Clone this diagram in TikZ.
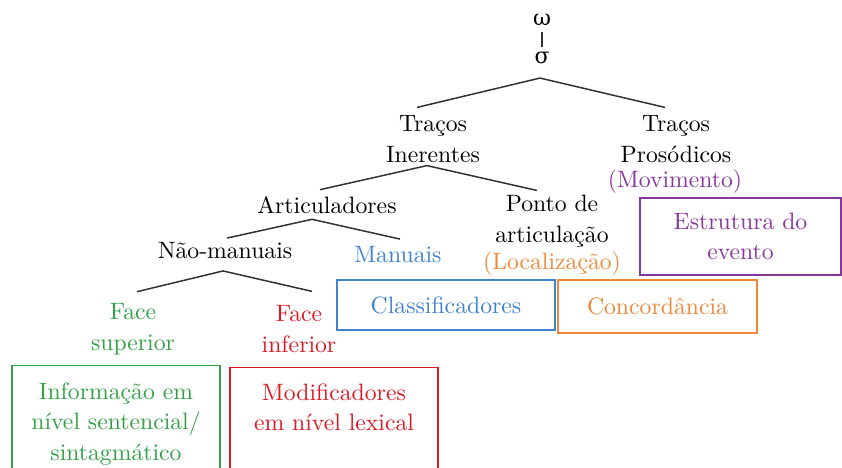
\documentclass[tikz,border=0pt]{standalone}
\usepackage{fontspec}
\newfontfamily\treefont{lmroman10-regular}[Extension=.otf]
\newfontfamily\greekfont{DejaVu Serif}
\definecolor{facegreen}{RGB}{50,160,70}
\definecolor{facered}{RGB}{220,25,35}
\definecolor{manblue}{RGB}{65,130,205}
\definecolor{locorange}{RGB}{240,135,55}
\definecolor{movpurple}{RGB}{135,55,155}
\begin{document}
\begin{tikzpicture}[x=1pt,y=-1pt,
  every node/.style={font=\treefont\fontsize{23.7}{30.5}\selectfont, inner sep=0pt, align=center},
  branch/.style={draw=black!80, line width=1.5pt},
  box/.style={draw=#1, text=#1, line width=1.2pt}]
\clip (0,0) rectangle (842,467);

\node (omega) at (542,20) {\greekfont\fontsize{22}{26}\selectfont ω};
\node (sigma) at (542,58) {\greekfont\fontsize{22}{26}\selectfont σ};
\draw[branch] ([yshift=-6pt]omega.south) -- ([yshift=5pt]sigma.north);

\node (inerentes) at (433,139) {Traços\\Inerentes};
\node (prosodicos) at (676,139) {Traços\\Prosódicos};
\node[text=movpurple] (movimento) at (675,182) {(Movimento)};
\draw[branch] ([shift={(-16pt,8pt)}]inerentes.north) -- ([shift={(-2pt,-14pt)}]sigma.south) -- ([shift={(-11pt,8pt)}]prosodicos.north);

\node (articuladores) at (327,205) {Articuladores};
\node (ponto) at (552,221) {Ponto de\\articulação};
\node[text=locorange] (localizacao) at (552,264) {(Localização)};
\draw[branch] ([shift={(-7pt,6.5pt)}]articuladores.north) -- ([shift={(-6pt,-3pt)}]inerentes.south) -- ([shift={(-15pt,4.5pt)}]ponto.north);

\node (naomanuais) at (225,251) {Não-manuais};
\node[text=manblue] (manuais) at (398,255) {Manuais};
\draw[branch] ([shift={(2pt,4.5pt)}]naomanuais.north) -- ([shift={(-15pt,-5.5pt)}]articuladores.south) -- ([shift={(2pt,7.5pt)}]manuais.north);

\node[text=facegreen] (facesup) at (133,329) {Face\\superior};
\node[text=facered] (faceinf) at (299,329) {Face\\inferior};
\draw[branch] ([shift={(4pt,11.5pt)}]facesup.north) -- ([shift={(-2pt,-11.5pt)}]naomanuais.south) -- ([shift={(13pt,14pt)}]faceinf.north);

% boxes
\node[box=facegreen, anchor=north, minimum width=208pt, inner ysep=17pt] (informacao) at (116,365) {Informação em\\nível sentencial/\\sintagmático};
\node[box=facered, anchor=north, minimum width=208pt, inner ysep=16pt, text depth=60pt] (modificadores) at (334,367) {Modificadores\\em nível lexical};
\node[box=manblue, minimum width=218pt, minimum height=50pt] (classificadores) at (446,305) {Classificadores};
\node[box=locorange, minimum width=199pt, minimum height=53pt] (concordancia) at (657.5,306.5) {Concordância};
\node[box=movpurple, minimum width=201pt, minimum height=77pt] (estrutura) at (740.5,236.5) {Estrutura do\\evento};
\end{tikzpicture}
\end{document}
